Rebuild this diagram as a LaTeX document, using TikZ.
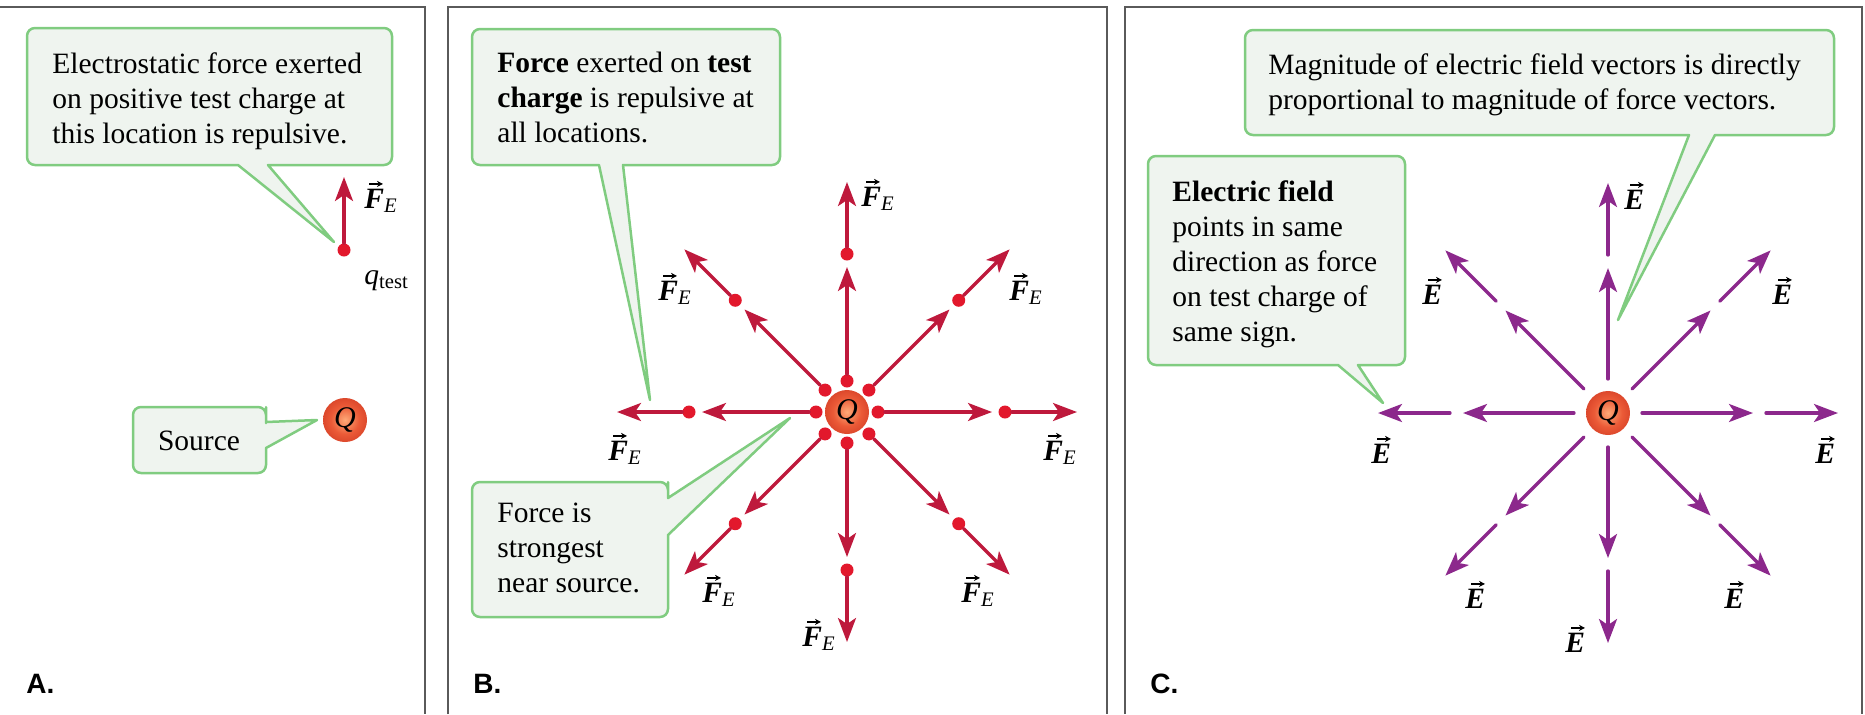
\documentclass[tikz,border=0pt]{standalone}
\usepackage{amsmath,amssymb}
\usepackage{fontspec}
\setmainfont{Liberation Serif}
\setsansfont{Liberation Sans}
\usepackage{tikz}
\usetikzlibrary{arrows.meta}
\usepackage{xcolor}
\definecolor{forcered}{RGB}{190,25,60}
\definecolor{dotred}{RGB}{226,24,44}
\definecolor{fieldpurple}{RGB}{140,40,140}
\definecolor{callgreen}{RGB}{128,204,128}
\definecolor{callfill}{RGB}{239,244,239}
\definecolor{framegray}{RGB}{90,90,90}
\definecolor{qlight}{RGB}{255,170,120}
\definecolor{qmid}{RGB}{235,90,55}
\definecolor{qdark}{RGB}{190,35,20}
\pgfdeclareradialshading{qball}{\pgfpoint{0bp}{0bp}}{color(0bp)=(qlight); color(16bp)=(qmid); color(44bp)=(qdark); color(50bp)=(qdark)}

\begin{document}
\begin{tikzpicture}[x=0.5pt,y=-0.5pt,>={Stealth[length=12pt,width=9pt,inset=3pt]},
  font=\fontsize{14.75}{17.5}\selectfont,line cap=round,
  frame/.style={framegray,line width=1pt,line cap=butt},
  callout/.style={draw=callgreen,fill=callfill,line width=1.25pt,line join=round},
  txt/.style={anchor=north west,align=left,inner sep=0pt},
  charge/.style={circle,minimum size=22pt,inner sep=0pt,shading=qball,font=\fontsize{15}{15}\selectfont\itshape},
  fdot/.style={circle,fill=dotred,minimum size=6.5pt,inner sep=0pt},
  farrow/.style={->,forcered,line width=1.65pt},
  earrow/.style={->,fieldpurple,line width=1.65pt},
  vlabel/.style={inner sep=0pt,anchor=base west},
  vecbar/.style={-{Stealth[length=3pt,width=3pt]},line width=0.7pt,line cap=butt},
  panel/.style={font=\fontsize{14}{14}\selectfont\sffamily\bfseries,anchor=base west,inner sep=0pt}]
\useasboundingbox (0,0) rectangle (1865,714);

% panel frames
\draw[frame] (0,7) -- (425,7) -- (425,714);
\draw[frame] (448,714) -- (448,7) -- (1107,7) -- (1107,714);
\draw[frame] (1125,714) -- (1125,7) -- (1862,7) -- (1862,714);

% A: one test charge
\coordinate (tipA) at (334,242);
\filldraw[callout] (27,96) [rounded corners=4pt] -- (27,28) -- (392,28) -- (392,165) -- (300,165) [sharp corners] -- (268,165) -- (tipA) -- (238,165) -- (130,165) [rounded corners=4pt] -- (27,165) -- cycle;
\node[txt] (noteA) at (52,52) {Electrostatic force exerted\\on positive test charge at\\this location is repulsive.};
\node[fdot] (qA) at (344,250) {};
\coordinate (fA) at (344,177);
\draw[farrow] (qA) -- (fA);
\node[vlabel] (lblA) at (364,208) {\textbf{\textit{F}}$_{\textit{E}}$};
\draw[vecbar] ([shift={(2.5pt,2.2pt)}]lblA.north west) -- ++(7pt,0);
\node[vlabel] (qtest) at (364,284) {\textit{q}$_{\text{test}}$};
\node[charge] (QA) at (345,420) {Q};
\coordinate (tipS) at (317,420);
\filldraw[callout] (133,440) [rounded corners=4pt] -- (133,407) -- (266,407) -- (266,415) [sharp corners] -- (266,422) -- (tipS) -- (266,448) -- (266,455) [rounded corners=4pt] -- (266,473) -- (133,473) -- cycle;
\node[anchor=base,inner sep=0pt] (srcA) at (199,450) {Source};
\node[panel] (labA) at (26,693) {A.};

% B: force at many locations
\coordinate (tipB) at (650,400);
\filldraw[callout] (472,97) [rounded corners=4pt] -- (472,29) -- (780,29) -- (780,165) -- (700,165) [sharp corners] -- (623,165) -- (tipB) -- (599,165) -- (540,165) [rounded corners=4pt] -- (472,165) -- cycle;
\node[txt] (noteB) at (497,52) {\textbf{Force} exerted on \textbf{test}\\\textbf{charge} is repulsive at\\all locations.};
\node[charge] (QB) at (847,412) {Q};
\foreach \a in {0,45,...,315}{
  \node[fdot] (bi\a) at ([shift={(\a:31)}]QB.center) {};
  \node[fdot] (bo\a) at ([shift={(\a:158)}]QB.center) {};
  \coordinate (bti\a) at ([shift={(\a:145)}]QB.center);
  \coordinate (bto\a) at ([shift={(\a:230)}]QB.center);
  \draw[farrow] (bi\a) -- (bti\a);
  \draw[farrow] (bo\a) -- (bto\a);
}
\foreach \n/\dx/\dy in {t/14/-206,ur/162/-112,r/196/48,lr/114/190,b/-45/234,ll/-145/190,l/-239/48,ul/-189/-112}{
  \node[vlabel] (fB\n) at ([shift={(\dx,\dy)}]QB.center) {\textbf{\textit{F}}$_{\textit{E}}$};
  \draw[vecbar] ([shift={(2.5pt,2.2pt)}]fB\n.north west) -- ++(7pt,0);
}
\coordinate (tipB2) at (790,418);
\filldraw[callout] (472,550) [rounded corners=4pt] -- (472,482) -- (668,482) -- (668,490) [sharp corners] -- (668,498) -- (tipB2) -- (668,535) -- (668,545) [rounded corners=4pt] -- (668,617) -- (472,617) -- cycle;
\node[txt] (noteB2) at (497,503) {Force is\\strongest\\near source.};
\node[panel] (labB) at (473,693) {B.};

% C: electric field
\coordinate (tipC) at (1618,320);
\filldraw[callout] (1245,80) [rounded corners=4pt] -- (1245,30) -- (1834,30) -- (1834,135) -- (1760,135) [sharp corners] -- (1715,135) -- (tipC) -- (1689,135) -- (1600,135) [rounded corners=4pt] -- (1245,135) -- cycle;
\node[txt] (noteC) at (1268,53) {Magnitude of electric field vectors is directly\\proportional to magnitude of force vectors.};
\coordinate (tipC2) at (1383,403);
\filldraw[callout] (1148,260) [rounded corners=4pt] -- (1148,156) -- (1405,156) -- (1405,365) -- (1380,365) [sharp corners] -- (1358,365) -- (tipC2) -- (1338,365) -- (1300,365) [rounded corners=4pt] -- (1148,365) -- cycle;
\node[txt] (noteC2) at (1172,180) {\textbf{Electric field}\\points in same\\direction as force\\on test charge of\\same sign.};
\node[charge] (QC) at (1608,413) {Q};
\foreach \a in {0,45,...,315}{
  \coordinate (ci\a) at ([shift={(\a:34)}]QC.center);
  \coordinate (cti\a) at ([shift={(\a:145)}]QC.center);
  \coordinate (co\a) at ([shift={(\a:158)}]QC.center);
  \coordinate (cto\a) at ([shift={(\a:230)}]QC.center);
  \draw[earrow] (ci\a) -- (cti\a);
  \draw[earrow] (co\a) -- (cto\a);
}
\foreach \n/\dx/\dy in {t/16/-204,ur/164/-109,r/207/50,lr/116/195,b/-43/239,ll/-143/195,l/-237/50,ul/-186/-109}{
  \node[vlabel] (eC\n) at ([shift={(\dx,\dy)}]QC.center) {\textbf{\textit{E}}};
  \draw[vecbar] ([shift={(3pt,2.2pt)}]eC\n.north west) -- ++(7pt,0);
}
\node[panel] (labC) at (1150,693) {C.};
\end{tikzpicture}
\end{document}
